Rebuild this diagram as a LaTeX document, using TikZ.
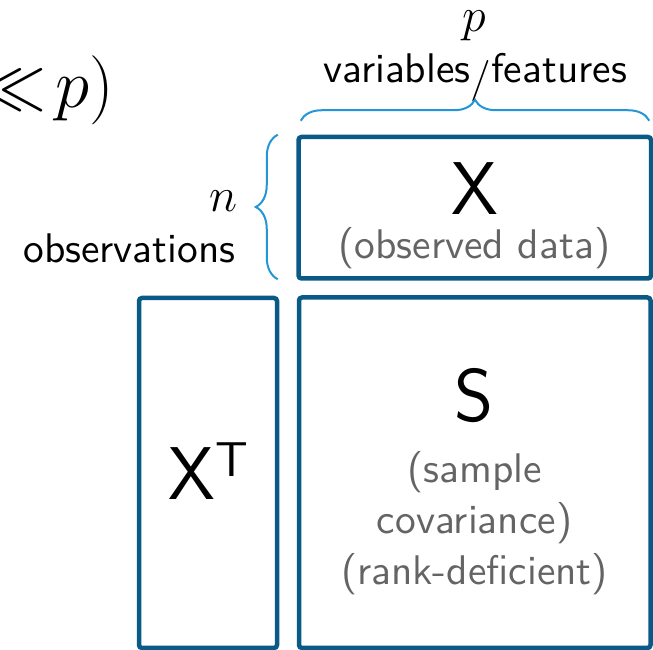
\documentclass[tikz,border=0pt]{standalone}
\usetikzlibrary{decorations.pathreplacing,fit,calc}
\definecolor{matblue}{RGB}{10,90,135}
\definecolor{bracecol}{RGB}{35,150,215}
\definecolor{notegray}{RGB}{100,100,100}
\tikzset{
  matbox/.style={draw=matblue, line width=1.125pt, rounded corners=0.75pt, inner sep=0pt},
  txt/.style={inner sep=0pt, font=\sffamily\fontsize{10.35}{12.75}\selectfont},
  dimsym/.style={inner sep=0pt, font=\fontsize{11.6}{14}\selectfont},
  note/.style={txt, text=notegray},
  bigletter/.style={inner sep=0pt, font=\sffamily\fontsize{18.7}{22}\selectfont},
  curly/.style={draw=bracecol, line width=0.5pt, decorate, decoration={brace, amplitude=#1}},
}
\begin{document}
\begin{tikzpicture}[x=0.25pt,y=-0.25pt]
\useasboundingbox (0,0) rectangle (653,650);
\clip (0,0) rectangle (653,650);

% the three matrices
\node[matbox, fit={(298.5,137) (651,278.5)}] (Xbox) {};
\node[matbox, fit={(139,298) (277,648)}] (XTbox) {};
\node[matbox, fit={(299,297.5) (650.5,648)}] (Sbox) {};

% matrix names and notes
\node[bigletter, anchor=base] (Xname) at (474.5,215) {X};
\node[note, anchor=base] (Xnote) at (474.5,259) {(observed data)};
\node[bigletter, anchor=base] (XTname) at (208,500) {X\raisebox{5.75pt}{\fontsize{12.25}{14}\selectfont T}};
\node[bigletter, anchor=base] (Sname) at (474.5,422) {S};
\node[note, anchor=base] (Snote1) at (474.5,483) {(sample};
\node[note, anchor=base] (Snote2) at (474.5,534) {covariance)};
\node[note, anchor=base] (Snote3) at (474.5,585) {(rank-deficient)};

% dimension labels
\node[dimsym, anchor=base] (pname) at (474,32) {$p$};
\node[txt, anchor=base] (pdesc) at (475,83) {variables\raisebox{-2.25pt}{/}features};
\node[dimsym, anchor=base east] (nname) at (238,212) {$n$};
\node[txt, anchor=base east] (ndesc) at (236.5,263) {observations};

% heading fragment
\node[inner sep=0pt, anchor=base east, font=\fontsize{18}{22}\selectfont] (cond) at (115,107.5) {$\ll\mkern-2.5mu p)$};

% braces
\coordinate (tb1) at ($(Xbox.north west)+(4.5,-14)$);
\coordinate (tb2) at ($(Xbox.north east)+(-4,-14)$);
\draw[curly=5.25pt] (tb1) -- (tb2);
\coordinate (lb1) at ($(Xbox.south west)+(-18.5,-1.5)$);
\coordinate (lb2) at ($(Xbox.north west)+(-18.5,0)$);
\draw[curly=5.5pt] (lb1) -- (lb2);
\end{tikzpicture}
\end{document}
